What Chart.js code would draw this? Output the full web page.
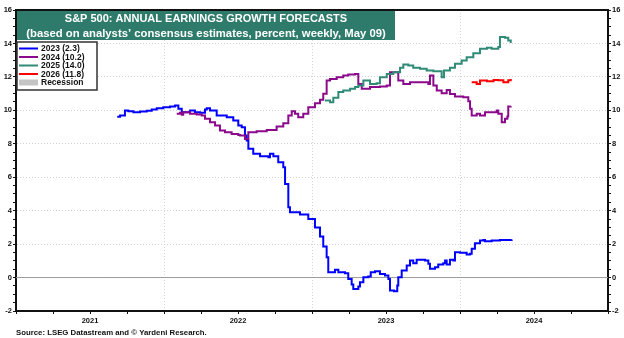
<!DOCTYPE html>
<html>
<head>
<meta charset="utf-8">
<script src="https://cdn.jsdelivr.net/npm/chart.js@4.4.1/dist/chart.umd.min.js"></script>
<style>
  html, body { margin: 0; padding: 0; background: #fff; }
  #wrap { width: 624px; height: 338px; position: relative; }
</style>
</head>
<body>
<div id="wrap"><canvas id="chart"></canvas></div>
<script>
// chart text
const titleLines = [
    "S&P 500: ANNUAL EARNINGS GROWTH FORECASTS",
    "(based on analysts\u2019 consensus estimates, percent, weekly, May 09)"
];
const sourceText = "Source: LSEG Datastream and \u00a9 Yardeni Research.";
const seriesLabels = ["2023 (2.3)", "2024 (10.2)", "2025 (14.0)", "2026 (11.8)"];
const seriesColors = ["#0000ff", "#8b0a8b", "#2f8b78", "#ff0000"];
const recessionLabel = "Recession";
const yearLabels = [2021, 2022, 2023, 2024];

// series, x in decimal years
const x2023 = [2021.684, 2021.703, 2021.736, 2021.759, 2021.793, 2021.838, 2021.883, 2021.917, 2021.951, 2021.995,
    2022.041, 2022.074, 2022.097, 2022.120, 2022.142, 2022.176, 2022.209, 2022.243, 2022.277, 2022.289,
    2022.311, 2022.356, 2022.424, 2022.468, 2022.502, 2022.525, 2022.547, 2022.559, 2022.570, 2022.603,
    2022.649, 2022.705, 2022.716, 2022.739, 2022.772, 2022.806, 2022.818, 2022.840, 2022.851, 2022.919,
    2022.975, 2023.020, 2023.054, 2023.076, 2023.099, 2023.110, 2023.144, 2023.155, 2023.178, 2023.223,
    2023.245, 2023.268, 2023.279, 2023.313, 2023.324, 2023.347, 2023.380, 2023.397, 2023.426, 2023.459,
    2023.493, 2023.516, 2023.527, 2023.554, 2023.576, 2023.583, 2023.606, 2023.640, 2023.662, 2023.684,
    2023.707, 2023.764, 2023.786, 2023.797, 2023.831, 2023.853, 2023.887, 2023.899, 2023.910, 2023.932,
    2023.955, 2023.966, 2024.000, 2024.045, 2024.068, 2024.079, 2024.101, 2024.135, 2024.158, 2024.169,
    2024.214, 2024.270, 2024.349];
const y2023 = [9.61, 9.69, 9.99, 9.95, 9.89, 9.93, 9.97, 10.05, 10.13, 10.19,
    10.23, 10.29, 10.09, 9.89, 9.89, 9.99, 9.89, 9.85, 10.05, 10.13,
    9.99, 9.69, 9.59, 9.39, 9.09, 8.99, 8.50, 8.19, 7.70, 7.40,
    7.25, 7.20, 7.40, 7.25, 6.90, 6.60, 5.60, 4.20, 3.90, 3.77,
    3.50, 3.00, 2.45, 1.85, 1.21, 0.32, 0.32, 0.46, 0.32, 0.26,
    -0.08, -0.42, -0.68, -0.54, -0.28, 0.02, 0.06, 0.32, 0.38, 0.22,
    0.12, -0.08, -0.78, -0.82, -0.48, 0.02, 0.42, 0.72, 1.02, 0.86,
    1.06, 1.02, 0.82, 0.52, 0.62, 0.78, 0.86, 1.02, 0.78, 1.06,
    1.02, 1.51, 1.48, 1.38, 1.42, 1.72, 2.05, 2.21, 2.25, 2.17,
    2.21, 2.25, 2.28];

const x2024 = [2022.086, 2022.108, 2022.120, 2022.130, 2022.176, 2022.221, 2022.255, 2022.277, 2022.311, 2022.345,
    2022.378, 2022.412, 2022.457, 2022.502, 2022.514, 2022.547, 2022.570, 2022.626, 2022.694, 2022.761,
    2022.806, 2022.840, 2022.863, 2022.885, 2022.907, 2022.941, 2022.975, 2023.020, 2023.054, 2023.076,
    2023.099, 2023.122, 2023.167, 2023.211, 2023.245, 2023.291, 2023.313, 2023.336, 2023.392, 2023.459,
    2023.505, 2023.527, 2023.561, 2023.583, 2023.617, 2023.662, 2023.752, 2023.786, 2023.797, 2023.820,
    2023.843, 2023.876, 2023.910, 2023.932, 2023.966, 2024.022, 2024.056, 2024.068, 2024.079, 2024.113,
    2024.135, 2024.169, 2024.248, 2024.259, 2024.282, 2024.304, 2024.320, 2024.326, 2024.343];
const y2024 = [9.79, 9.85, 9.73, 9.89, 9.79, 9.75, 9.69, 9.49, 9.29, 9.09,
    8.79, 8.69, 8.59, 8.53, 8.49, 8.29, 8.69, 8.75, 8.83, 9.03,
    9.23, 9.69, 9.95, 9.79, 9.59, 9.79, 10.19, 10.43, 10.63, 10.99,
    11.78, 11.88, 11.98, 12.08, 12.14, 12.18, 11.58, 11.29, 11.39, 11.42,
    11.48, 12.27, 12.27, 11.78, 11.58, 11.68, 11.68, 11.58, 12.08, 11.48,
    11.18, 11.02, 11.22, 10.98, 10.82, 10.78, 10.55, 10.09, 9.69, 9.79,
    9.69, 9.89, 9.99, 9.79, 9.29, 9.49, 9.63, 10.23, 10.25];

const x2025 = [2023.088, 2023.122, 2023.144, 2023.178, 2023.211, 2023.257, 2023.291, 2023.313, 2023.347, 2023.392,
    2023.437, 2023.459, 2023.505, 2023.549, 2023.595, 2023.617, 2023.651, 2023.684, 2023.730, 2023.775,
    2023.820, 2023.865, 2023.876, 2023.892, 2023.932, 2023.966, 2024.011, 2024.045, 2024.090, 2024.135,
    2024.182, 2024.214, 2024.259, 2024.270, 2024.304, 2024.326, 2024.343];
const y2025 = [10.59, 10.49, 10.75, 11.09, 11.18, 11.29, 11.39, 11.48, 11.78, 11.58,
    11.62, 11.98, 12.18, 12.27, 12.54, 12.74, 12.68, 12.54, 12.48, 12.38,
    12.34, 12.34, 11.98, 12.38, 12.54, 12.78, 12.98, 13.18, 13.42, 13.68,
    13.74, 13.68, 13.78, 14.38, 14.34, 14.18, 14.02];

const x2026 = [2024.079, 2024.113, 2024.135, 2024.182, 2024.227, 2024.259, 2024.293, 2024.326, 2024.343];
const y2026 = [11.68, 11.58, 11.78, 11.74, 11.82, 11.80, 11.68, 11.80, 11.88];

const xMin = 2021, xMax = 2025;
const yMin = -2, yMax = 16;

const toPoints = (xs, ys) => xs.map((x, i) => ({ x: x, y: ys[i] }));
const seriesData = [toPoints(x2023, y2023), toPoints(x2024, y2024), toPoints(x2025, y2025), toPoints(x2026, y2026)];

const tickFont = { family: "Liberation Sans, Arial, sans-serif", size: 7.5, weight: "bold" };

// top border, title box, legend box and source line
const decorPlugin = {
    id: "decor",
    afterDraw(chart) {
        const ctx = chart.ctx;
        const a = chart.chartArea;
        ctx.save();

        // top frame line
        ctx.strokeStyle = "#111";
        ctx.lineWidth = 2;
        ctx.beginPath();
        ctx.moveTo(a.left - 1, a.top);
        ctx.lineTo(a.right + 1, a.top);
        ctx.stroke();

        // title box
        ctx.fillStyle = "#2e7b6b";
        ctx.fillRect(a.left + 1, a.top + 1, 378, 29);
        ctx.fillStyle = "#fff";
        ctx.textAlign = "center";
        ctx.textBaseline = "middle";
        const cx = a.left + 1 + 189;
        ctx.font = "bold 11px 'Liberation Sans', Arial, sans-serif";
        ctx.fillText(titleLines[0], cx, a.top + 8.5);
        ctx.font = "bold 11.3px 'Liberation Sans', Arial, sans-serif";
        ctx.fillText(titleLines[1], cx, a.top + 23.5);

        // legend box
        const lx = a.left + 1, ly = a.top + 32;
        ctx.fillStyle = "#fff";
        ctx.fillRect(lx, ly, 80, 48);
        ctx.strokeStyle = "#333";
        ctx.lineWidth = 1.5;
        ctx.strokeRect(lx, ly, 80, 48);
        ctx.textAlign = "left";
        ctx.font = "bold 8.5px 'Liberation Sans', Arial, sans-serif";
        const rowY = i => ly + 6.5 + i * 8.5;
        seriesLabels.forEach((lab, i) => {
            ctx.strokeStyle = seriesColors[i];
            ctx.lineWidth = 2;
            ctx.beginPath();
            ctx.moveTo(lx + 2, rowY(i));
            ctx.lineTo(lx + 21, rowY(i));
            ctx.stroke();
            ctx.fillStyle = "#111";
            ctx.fillText(lab, lx + 24, rowY(i) + 0.5);
        });
        ctx.fillStyle = "#c4c4c4";
        ctx.fillRect(lx + 2, rowY(4) - 3, 19, 6);
        ctx.fillStyle = "#111";
        ctx.fillText(recessionLabel, lx + 24, rowY(4) + 0.5);

        // source
        ctx.font = "bold 7.8px 'Liberation Sans', Arial, sans-serif";
        ctx.fillStyle = "#111";
        ctx.fillText(sourceText, a.left, 332.5);
        ctx.restore();
    }
};

const gridDots = "#d2d2d2";

new Chart(document.getElementById("chart"), {
    type: "line",
    data: {
        datasets: [
            ...seriesData.map((d, i) => ({
                label: seriesLabels[i],
                data: d,
                borderColor: seriesColors[i],
                borderWidth: 2,
                pointRadius: 0,
                stepped: true,
                fill: false,
                order: 4 - i
            })),
            {
                label: "zero",
                data: [{ x: xMin, y: 0 }, { x: xMax, y: 0 }],
                borderColor: "#9c9c9c",
                borderWidth: 1,
                pointRadius: 0,
                order: 10
            }
        ]
    },
    options: {
        responsive: true,
        maintainAspectRatio: false,
        animation: false,
        layout: { padding: { top: 10, bottom: 13, left: 0, right: 0 } },
        plugins: {
            legend: { display: false },
            tooltip: { enabled: false }
        },
        scales: {
            x: {
                type: "linear",
                min: xMin,
                max: xMax,
                afterFit(scale) { scale.height = 14; },
                ticks: {
                    stepSize: 0.25,
                    autoSkip: false,
                    maxRotation: 0,
                    padding: 2,
                    color: "#111",
                    font: tickFont,
                    callback: v => {
                        const yr = Math.floor(v);
                        return (v - yr === 0.5 && yearLabels.includes(yr)) ? String(yr) : "";
                    }
                },
                grid: {
                    color: c => (c.tick && Number.isInteger(c.tick.value) && c.tick.value > xMin && c.tick.value < xMax) ? gridDots : "rgba(0,0,0,0)",
                    tickColor: "#111",
                    tickLength: 3
                },
                border: { color: "#111", width: 2, dash: [1, 2] }
            },
            y: {
                position: "left",
                min: yMin,
                max: yMax,
                afterFit(scale) { scale.width = 16; },
                ticks: {
                    stepSize: 0.5,
                    autoSkip: false,
                    padding: 1,
                    color: "#111",
                    font: tickFont,
                    callback: v => (v % 2 === 0 ? String(v) : "")
                },
                grid: {
                    color: c => (c.tick && c.tick.value % 2 === 0 && c.tick.value > yMin && c.tick.value < yMax) ? gridDots : "rgba(0,0,0,0)",
                    tickColor: "#111",
                    tickLength: 3
                },
                border: { color: "#111", width: 2, dash: [1, 2] }
            },
            y2: {
                position: "right",
                min: yMin,
                max: yMax,
                afterFit(scale) { scale.width = 16; },
                ticks: {
                    stepSize: 0.5,
                    autoSkip: false,
                    padding: 1,
                    color: "#111",
                    font: tickFont,
                    callback: v => (v % 2 === 0 ? String(v) : "")
                },
                grid: {
                    drawOnChartArea: false,
                    tickColor: "#111",
                    tickLength: 3
                },
                border: { color: "#111", width: 2 }
            }
        }
    },
    plugins: [decorPlugin]
});
</script>
</body>
</html>
